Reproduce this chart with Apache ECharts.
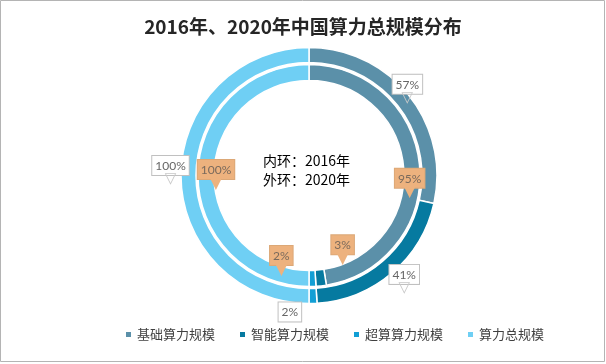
<!DOCTYPE html>
<html>
<head>
<meta charset="utf-8">
<script src="https://cdn.jsdelivr.net/npm/echarts@6/dist/echarts.min.js"></script>
<style>
html,body{margin:0;padding:0;background:#fff;}
#main{width:606px;height:364px;}
</style>
</head>
<body>
<div id="main"></div>
<script>
// ---- data ----
var categories = ['基础算力规模', '智能算力规模', '超算算力规模', '算力总规模'];
var inner2016 = [95, 3, 2, 100];
var outer2020 = [57, 41, 2, 100];
var titleText = '2016年、2020年中国算力总规模分布';
var centerNote = ['内环：2016年', '外环：2020年'];

// ---- styles ----
var colors = ['#5b90a9', '#067aa0', '#129fd5', '#6fcff4'];
var outerOffsets = [[2, -8], [15, 11], [-23, 13], [-15, -4]];
var innerOffsets = [[-5, 17], [22, -30], [-31, -20], [13, 0]];
var outerArrow = [true, true, false, true];

function buildData(values, offsets, kind, arrows) {
  return values.map(function (v, i) {
    var hasArrow = arrows ? arrows[i] : true;
    return {
      name: categories[i],
      value: v,
      itemStyle: { color: colors[i] },
      label: {
        offset: offsets[i],
        formatter: hasArrow ? ('{' + kind + '|' + v + '%}\n{' + kind + 'A|' + (kind === 'w' ? '▽' : '▼') + '}') : ('{' + kind + '|' + v + '%}')
      }
    };
  });
}

var richStyle = {
  w: {
    backgroundColor: '#ffffff', borderColor: '#c0c0c0', borderWidth: 1,
    padding: [4, 3, 3, 3], color: '#666666', fontSize: 12, fontFamily: 'Lato', align: 'center'
  },
  wA: { color: '#c8c8c8', fontSize: 15, lineHeight: 12, align: 'center', fontFamily: 'DejaVu Sans' },
  o: {
    backgroundColor: '#edb27e', borderColor: '#dca877', borderWidth: 1,
    padding: [4, 3, 3, 3], color: '#7a6a5c', fontSize: 12, fontFamily: 'Lato', align: 'center'
  },
  oA: { color: '#edb27e', fontSize: 16, lineHeight: 12, align: 'center', fontFamily: 'DejaVu Sans' }
};

var chart = echarts.init(document.getElementById('main'), null, { renderer: 'canvas' });
chart.setOption({
  animation: false,
  backgroundColor: '#ffffff',
  title: {
    text: titleText,
    left: 'center',
    top: 12,
    textStyle: { fontSize: 19, fontWeight: 'bold', color: '#262626', fontFamily: 'Noto Sans CJK SC' }
  },
  legend: {
    data: categories,
    left: 119,
    top: 323,
    icon: 'rect',
    itemWidth: 7,
    itemHeight: 7,
    itemGap: 23,
    textStyle: { fontSize: 13, color: '#404040', fontFamily: 'Noto Sans CJK SC' }
  },
  graphic: [
    {
      type: 'rect', silent: true,
      shape: { x: 0.5, y: 0.5, width: 604, height: 361 },
      style: { fill: 'none', stroke: '#b4b4b4', lineWidth: 1 }
    },
    {
      type: 'text', left: 263, top: 151, silent: true,
      style: { text: centerNote.join('\n'), fontSize: 14, lineHeight: 19, fill: '#000', fontFamily: 'Noto Sans CJK SC' }
    }
  ],
  series: [
    {
      name: '2020',
      type: 'pie',
      center: [309, 175.5],
      radius: [113, 128],
      startAngle: 90,
      clockwise: true,
      avoidLabelOverlap: false,
      itemStyle: { borderColor: '#fff', borderWidth: 1.5 },
      label: { show: true, position: 'inside', rich: richStyle, lineHeight: 16 },
      labelLine: { show: false },
      emphasis: { disabled: true },
      data: buildData(outer2020, outerOffsets, 'w', outerArrow)
    },
    {
      name: '2016',
      type: 'pie',
      center: [309, 175.5],
      radius: [95, 111],
      startAngle: 90,
      clockwise: true,
      avoidLabelOverlap: false,
      itemStyle: { borderColor: '#fff', borderWidth: 1.5 },
      label: { show: true, position: 'inside', rich: richStyle, lineHeight: 16 },
      labelLine: { show: false },
      emphasis: { disabled: true },
      data: buildData(inner2016, innerOffsets, 'o')
    }
  ]
});
</script>
</body>
</html>
